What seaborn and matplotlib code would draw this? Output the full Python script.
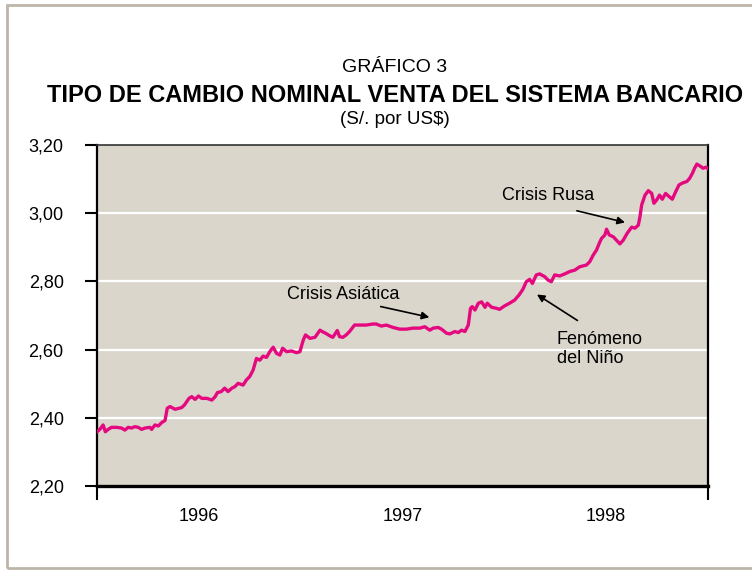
import pandas as pd
import numpy as np
import matplotlib
matplotlib.use('Agg')
import matplotlib.pyplot as plt
import matplotlib.dates as mdates
from matplotlib.patches import Rectangle
import seaborn as sns

# Tipo de cambio venta (S/. por US$)
fechas = [
    '1996-01-01', '1996-01-06', '1996-01-12', '1996-01-16', '1996-01-21', '1996-01-27',
    '1996-02-05', '1996-02-14', '1996-02-20', '1996-02-26', '1996-03-03', '1996-03-09',
    '1996-03-15', '1996-03-21', '1996-03-27', '1996-04-05', '1996-04-08', '1996-04-14',
    '1996-04-20', '1996-04-26', '1996-05-02', '1996-05-06', '1996-05-11', '1996-05-20',
    '1996-06-01', '1996-06-06', '1996-06-14', '1996-06-19', '1996-06-25', '1996-07-01',
    '1996-07-07', '1996-07-16', '1996-07-25', '1996-07-31', '1996-08-04', '1996-08-11',
    '1996-08-17', '1996-08-23', '1996-08-30', '1996-09-04', '1996-09-10', '1996-09-19',
    '1996-09-25', '1996-10-01', '1996-10-07', '1996-10-13', '1996-10-19', '1996-10-25',
    '1996-10-31', '1996-11-06', '1996-11-12', '1996-11-18', '1996-11-24', '1996-11-29',
    '1996-12-06', '1996-12-15', '1996-12-24', '1996-12-30',
    '1997-01-05', '1997-01-09', '1997-01-17', '1997-01-26', '1997-02-04', '1997-02-08',
    '1997-02-14', '1997-02-22', '1997-02-27', '1997-03-07', '1997-03-11', '1997-03-17',
    '1997-03-23', '1997-03-29', '1997-04-07', '1997-04-16', '1997-04-28', '1997-05-10',
    '1997-05-16', '1997-05-25', '1997-06-03', '1997-06-15', '1997-06-27', '1997-07-09',
    '1997-07-21', '1997-08-02', '1997-08-11', '1997-08-20', '1997-08-26', '1997-09-04',
    '1997-09-10', '1997-09-19', '1997-09-25', '1997-10-04', '1997-10-10', '1997-10-16',
    '1997-10-22', '1997-10-28', '1997-11-01', '1997-11-04', '1997-11-09', '1997-11-15',
    '1997-11-21', '1997-11-27', '1997-12-01', '1997-12-09', '1997-12-18', '1997-12-23',
    '1998-01-01', '1998-01-10', '1998-01-19', '1998-01-27', '1998-02-03', '1998-02-09',
    '1998-02-15', '1998-02-20', '1998-02-27', '1998-03-05', '1998-03-14', '1998-03-20',
    '1998-03-26', '1998-04-01', '1998-04-10', '1998-04-19', '1998-04-28', '1998-05-07',
    '1998-05-16', '1998-05-28', '1998-06-03', '1998-06-09', '1998-06-15', '1998-06-20',
    '1998-06-24', '1998-06-30', '1998-07-03', '1998-07-08', '1998-07-15', '1998-07-22',
    '1998-07-27', '1998-08-02', '1998-08-09', '1998-08-17', '1998-08-23', '1998-08-29',
    '1998-09-01', '1998-09-04', '1998-09-10', '1998-09-16', '1998-09-22', '1998-09-26',
    '1998-10-01', '1998-10-06', '1998-10-11', '1998-10-17', '1998-10-23', '1998-10-29',
    '1998-11-04', '1998-11-10', '1998-11-17', '1998-11-24', '1998-11-29', '1998-12-04',
    '1998-12-08', '1998-12-12', '1998-12-18', '1998-12-23', '1998-12-29', '1998-12-31',
]
tipo_cambio = [
    2.359, 2.366, 2.379, 2.359, 2.366, 2.372,
    2.372, 2.370, 2.364, 2.372, 2.370, 2.374,
    2.372, 2.366, 2.370, 2.372, 2.366, 2.379,
    2.376, 2.386, 2.392, 2.428, 2.433, 2.425,
    2.430, 2.438, 2.457, 2.462, 2.454, 2.464,
    2.457, 2.457, 2.452, 2.462, 2.474, 2.477,
    2.487, 2.477, 2.487, 2.491, 2.501, 2.496,
    2.511, 2.521, 2.540, 2.574, 2.569, 2.581,
    2.577, 2.594, 2.607, 2.589, 2.584, 2.604,
    2.594, 2.596, 2.591, 2.594,
    2.628, 2.643, 2.633, 2.636, 2.657, 2.653,
    2.648, 2.640, 2.636, 2.656, 2.638, 2.636,
    2.643, 2.653, 2.672, 2.672, 2.672, 2.675,
    2.675, 2.669, 2.672, 2.665, 2.660, 2.660,
    2.663, 2.663, 2.667, 2.657, 2.663, 2.665,
    2.660, 2.648, 2.646, 2.653, 2.650, 2.657,
    2.653, 2.672, 2.721, 2.726, 2.716, 2.736,
    2.740, 2.724, 2.736, 2.724, 2.721, 2.718,
    2.728, 2.736, 2.745, 2.760, 2.777, 2.799,
    2.806, 2.794, 2.819, 2.822, 2.814, 2.804,
    2.799, 2.819, 2.816, 2.822, 2.829, 2.833,
    2.843, 2.848, 2.858, 2.877, 2.892, 2.912,
    2.926, 2.936, 2.953, 2.936, 2.931, 2.919,
    2.910, 2.921, 2.941, 2.959, 2.956, 2.965,
    2.990, 3.024, 3.053, 3.066, 3.058, 3.029,
    3.039, 3.053, 3.041, 3.058, 3.049, 3.041,
    3.063, 3.083, 3.089, 3.093, 3.102, 3.117,
    3.132, 3.144, 3.138, 3.132, 3.135, 3.132,
]
anios = ['1996', '1997', '1998']
y_ticks = [2.20, 2.40, 2.60, 2.80, 3.00, 3.20]

df = pd.DataFrame({'fecha': pd.to_datetime(fechas), 'tc': tipo_cambio})

plt.rcParams['font.family'] = ['Liberation Sans', 'DejaVu Sans']

fig = plt.figure(figsize=(7.52, 5.71), dpi=100)
ax = fig.add_axes([97/752, 1-486/571, (708-97)/752, (486-145)/571])
ax.set_facecolor('#DAD6CC')

# white gridlines
for v in y_ticks[1:-1]:
    ax.axhline(v, color='white', lw=1.6, zorder=1)

sns.lineplot(data=df, x='fecha', y='tc', ax=ax, color='#E5097F', lw=2.4, zorder=3)

ax.set_xlim(pd.Timestamp('1996-01-01'), pd.Timestamp('1999-01-01'))
ax.set_ylim(2.20, 3.20)
ax.set_xlabel('')
ax.set_ylabel('')

ax.set_yticks(y_ticks)
ax.set_yticklabels([('%.2f' % v).replace('.', ',') for v in y_ticks], fontsize=13)
ax.tick_params(axis='y', direction='out', length=9, width=1.5, pad=15, color='black')

# major ticks only at the edges, year labels centered via minor ticks
ax.set_xticks([mdates.date2num(pd.Timestamp('1996-01-01')), mdates.date2num(pd.Timestamp('1999-01-01'))])
ax.set_xticklabels(['', ''])
ax.set_xticks([mdates.date2num(pd.Timestamp(a + '-07-02')) for a in anios], minor=True)
ax.set_xticklabels(anios, minor=True, fontsize=13)
ax.tick_params(axis='x', which='major', direction='out', length=10, width=1.5)
ax.tick_params(axis='x', which='minor', length=0, pad=16)

for s in ['left', 'right']:
    ax.spines[s].set_linewidth(1.6)
    ax.spines[s].set_color('black')
ax.spines['bottom'].set_linewidth(2.4)
ax.spines['bottom'].set_color('black')
ax.spines['top'].set_linewidth(1.2)
ax.spines['top'].set_color('#333333')

# annotations
arrow = dict(arrowstyle='-|>', color='black', lw=1.2, mutation_scale=11)
ax.text(pd.Timestamp('1996-12-06'), 2.763, 'Crisis Asiática', fontsize=13, va='center')
ax.annotate('', xy=(pd.Timestamp('1997-08-24'), 2.693), xytext=(pd.Timestamp('1997-05-19'), 2.728), arrowprops=arrow)
ax.text(pd.Timestamp('1997-12-27'), 3.053, 'Crisis Rusa', fontsize=13, va='center')
ax.annotate('', xy=(pd.Timestamp('1998-08-10'), 2.971), xytext=(pd.Timestamp('1998-05-06'), 3.009), arrowprops=arrow)
ax.text(pd.Timestamp('1998-04-05'), 2.602, 'Fenómeno\ndel Niño', fontsize=13, va='center', linespacing=1.2)
ax.annotate('', xy=(pd.Timestamp('1998-02-24'), 2.766), xytext=(pd.Timestamp('1998-05-16'), 2.681), arrowprops=arrow)

# titles
fig.text(395/752, 1-68/571, 'GRÁFICO 3', ha='center', va='center', fontsize=14)
fig.text(395/752, 1-96/571, 'TIPO DE CAMBIO NOMINAL VENTA DEL SISTEMA BANCARIO',
         ha='center', va='center', fontsize=17, fontweight='bold')
fig.text(395/752, 1-119/571, '(S/. por US$)', ha='center', va='center', fontsize=13.5)

# outer frame
fig.patches.append(Rectangle((7/752, 3/571), 1.2, 1-8/571, transform=fig.transFigure,
                             fill=False, edgecolor='#BDB6A8', lw=2))

fig.savefig('out.png', dpi=100)
